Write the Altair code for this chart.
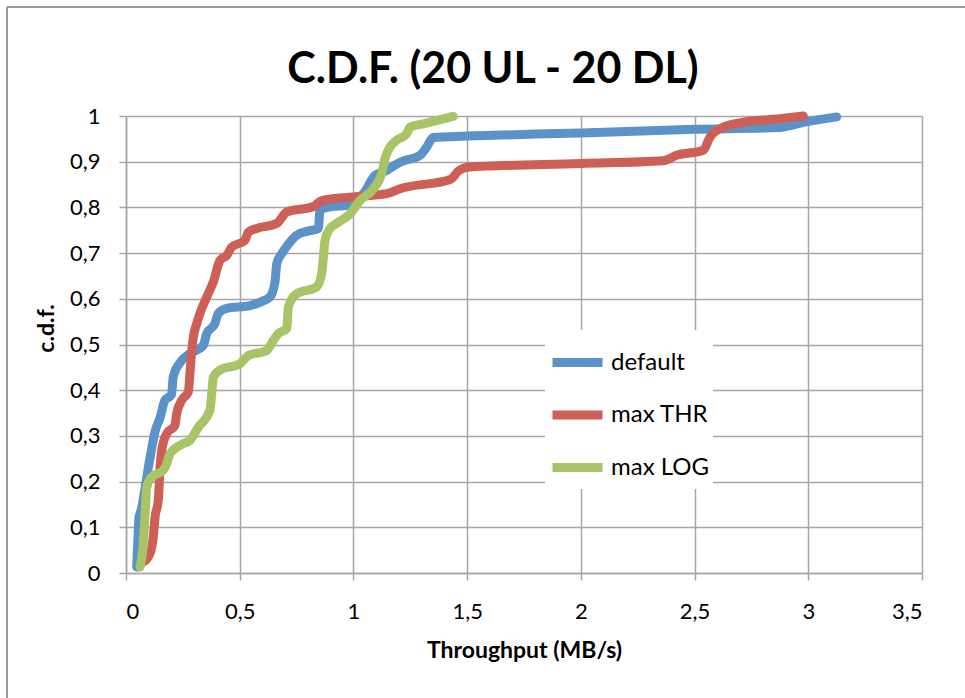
import altair as alt
import pandas as pd

title_text = "C.D.F. (20 UL - 20 DL)"
series_names = ["default", "max THR", "max LOG"]
colors = ["#5B93C9", "#CD5F57", "#A8C466"]

default_x = [0.047, 0.052, 0.057, 0.068, 0.085, 0.098, 0.112, 0.128, 0.15, 0.171, 0.2, 0.208, 0.237,
             0.281, 0.34, 0.355, 0.391, 0.406, 0.443, 0.545, 0.6, 0.633, 0.655, 0.663, 0.685, 0.707,
             0.75, 0.8, 0.846, 0.853, 0.897, 0.985, 1.044, 1.095, 1.146, 1.205, 1.293, 1.322, 1.351,
             1.5, 2.0, 2.5, 2.876, 2.99, 3.125]
default_y = [0.013, 0.07, 0.12, 0.14, 0.19, 0.23, 0.27, 0.31, 0.34, 0.378, 0.39, 0.43, 0.46,
             0.48, 0.498, 0.524, 0.546, 0.568, 0.579, 0.585, 0.595, 0.604, 0.637, 0.677, 0.699, 0.715,
             0.739, 0.748, 0.754, 0.794, 0.801, 0.805, 0.83, 0.87, 0.881, 0.899, 0.914, 0.932, 0.953,
             0.956, 0.963, 0.971, 0.975, 0.987, 0.998]

thr_x = [0.076, 0.106, 0.12, 0.128, 0.142, 0.15, 0.157, 0.179, 0.215, 0.223, 0.245, 0.274, 0.281,
         0.288, 0.296, 0.311, 0.325, 0.355, 0.384, 0.413, 0.443, 0.465, 0.523, 0.538, 0.575, 0.663,
         0.707, 0.824, 0.861, 1.0, 1.146, 1.205, 1.425, 1.465, 1.5, 2.0, 2.362, 2.421, 2.538, 2.568,
         2.627, 2.7, 2.876, 2.978]
thr_y = [0.024, 0.043, 0.079, 0.123, 0.159, 0.232, 0.268, 0.305, 0.323, 0.349, 0.378, 0.396, 0.436,
         0.48, 0.516, 0.546, 0.568, 0.604, 0.637, 0.684, 0.695, 0.713, 0.728, 0.746, 0.754, 0.765,
         0.79, 0.802, 0.815, 0.823, 0.83, 0.841, 0.861, 0.881, 0.888, 0.896, 0.902, 0.914, 0.925, 0.954,
         0.976, 0.985, 0.994, 1.0]

log_x = [0.062, 0.076, 0.084, 0.091, 0.113, 0.164, 0.179, 0.193, 0.252, 0.281, 0.318, 0.369, 0.377,
         0.384, 0.413, 0.501, 0.538, 0.619, 0.648, 0.67, 0.707, 0.714, 0.75, 0.838, 0.86, 0.868,
         0.875, 0.897, 0.926, 0.985, 1.029, 1.088, 1.124, 1.139, 1.161, 1.19, 1.234, 1.249, 1.307, 1.439]
log_y = [0.013, 0.064, 0.13, 0.188, 0.21, 0.225, 0.239, 0.261, 0.283, 0.29, 0.319, 0.356, 0.393,
         0.429, 0.444, 0.458, 0.476, 0.487, 0.509, 0.524, 0.535, 0.582, 0.611, 0.626, 0.655, 0.691,
         0.728, 0.754, 0.765, 0.786, 0.815, 0.841, 0.874, 0.907, 0.932, 0.947, 0.961, 0.976, 0.983, 0.999]

x_ticks = [0, 0.5, 1, 1.5, 2, 2.5, 3, 3.5]
y_ticks = [0, 0.1, 0.2, 0.3, 0.4, 0.5, 0.6, 0.7, 0.8, 0.9, 1.0]

rows = []
for name, xs, ys in [("default", default_x, default_y), ("max THR", thr_x, thr_y), ("max LOG", log_x, log_y)]:
    for i, (a, b) in enumerate(zip(xs, ys)):
        rows.append({"series": name, "x": a, "y": b, "i": i})
df = pd.DataFrame(rows)
title_df = pd.DataFrame({"t": [title_text]})

FONT = "Lato"
GRID = "#A6A6A6"
label_expr = "replace(toString(datum.value), '.', ',')"

lines = alt.Chart(df).mark_line(
    strokeWidth=9, strokeCap="round", strokeJoin="round", interpolate="monotone"
).encode(
    x=alt.X("x:Q", scale=alt.Scale(domain=[0, 3.5], nice=False),
            axis=alt.Axis(values=x_ticks, title="Throughput (MB/s)", labelExpr=label_expr,
                          grid=True, gridColor=GRID, gridWidth=1.5, domainColor=GRID, domainWidth=1.5,
                          tickColor=GRID, tickWidth=1.5, tickSize=7, labelPadding=21,
                          labelFontSize=22, labelFont=FONT, labelColor="#000",
                          titleFontSize=23, titleFont=FONT, titleFontWeight="bold",
                          titleColor="#000", titlePadding=17)),
    y=alt.Y("y:Q", scale=alt.Scale(domain=[0, 1], nice=False),
            axis=alt.Axis(values=y_ticks, title="c.d.f.", labelExpr=label_expr,
                          grid=True, gridColor=GRID, gridWidth=1.5, domainColor=GRID, domainWidth=1.5,
                          tickColor=GRID, tickWidth=1.5, tickSize=7, labelPadding=19,
                          labelFontSize=22, labelFont=FONT, labelColor="#000",
                          titleFontSize=23, titleFont=FONT, titleFontWeight="bold",
                          titleColor="#000", titlePadding=11, titleY=212)),
    color=alt.Color("series:N", scale=alt.Scale(domain=series_names, range=colors),
                    legend=alt.Legend(title=None, orient="none", legendX=419, legendY=214,
                                      fillColor="white", padding=3,
                                      symbolType="stroke", symbolSize=2500, symbolStrokeWidth=9,
                                      labelFontSize=24, labelFont=FONT, labelColor="#000",
                                      rowPadding=4.5, labelOffset=4)),
    detail="series:N",
    order="i:Q",
)

frame_left = alt.Chart(title_df).mark_rule(color="#999999", strokeWidth=2).encode(
    x=alt.value(-119), y=alt.value(-109), y2=alt.value(700))
frame_top = alt.Chart(title_df).mark_rule(color="#999999", strokeWidth=2).encode(
    x=alt.value(-119), x2=alt.value(900), y=alt.value(-109))

title_mark = alt.Chart(title_df).mark_text(
    font=FONT, fontSize=43, fontWeight="bold", color="#000", align="center", baseline="alphabetic"
).encode(x=alt.value(367), y=alt.value(-33), text="t:N")

chart = alt.layer(frame_left, frame_top, lines, title_mark).properties(
    width=796, height=457,
    autosize=alt.AutoSizeParams(type="none"),
    padding={"left": 126, "top": 116, "right": 43, "bottom": 125},
).configure_view(stroke=None).configure(background="white")

chart.save("out.html", embed_options={"renderer": "svg", "actions": False})
